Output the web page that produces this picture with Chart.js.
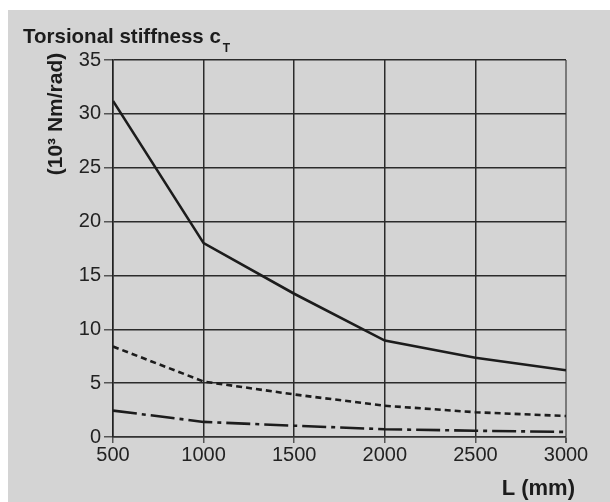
<!DOCTYPE html>
<html lang="en">
<head>
<meta charset="UTF-8">
<title>Torsional stiffness</title>
<script src="https://cdn.jsdelivr.net/npm/chart.js"></script>
<style>
    html, body { margin: 0; padding: 0; background: #ffffff; }
    #chart { display: block; }
</style>
</head>
<body>
<canvas id="chart" width="610" height="502"></canvas>
<script>
    // values
    const lengths = [500, 1000, 1500, 2000, 2500, 3000];
    const stiffnessSolid = [31.2, 18.0, 13.3, 8.95, 7.35, 6.2];
    const stiffnessDashed = [8.4, 5.15, 3.95, 2.9, 2.3, 1.95];
    const stiffnessDashDot = [2.45, 1.4, 1.05, 0.72, 0.58, 0.47];
    const xTicks = [500, 1000, 1500, 2000, 2500, 3000];
    const yTicks = [0, 5, 10, 15, 20, 25, 30, 35];

    const FONT = '"Liberation Sans", Arial, Helvetica, sans-serif';
    const INK = '#1c1c1c';

    const toPoints = (vals) => vals.map((v, i) => ({ x: lengths[i], y: v }));

    // gray panel behind the chart and the text labels
    const panelAndLabels = {
        id: 'panelAndLabels',
        beforeDraw(chart) {
            const ctx = chart.ctx;
            ctx.save();
            ctx.fillStyle = '#ffffff';
            ctx.fillRect(0, 0, chart.width, chart.height);
            ctx.fillStyle = '#d4d4d4';
            ctx.fillRect(8, 10, chart.width - 8, chart.height - 10);
            ctx.restore();
        },
        afterDraw(chart) {
            const ctx = chart.ctx;
            ctx.save();
            ctx.fillStyle = INK;
            ctx.textBaseline = 'alphabetic';

            // main title with subscript T
            ctx.font = `bold 20.5px ${FONT}`;
            ctx.textAlign = 'left';
            const title = 'Torsional stiffness c';
            ctx.fillText(title, 23, 43);
            const w = ctx.measureText(title).width;
            ctx.font = `bold 12px ${FONT}`;
            ctx.fillText('T', 23 + w + 2, 52);

            // y axis title, rotated
            ctx.save();
            ctx.translate(62, 114);
            ctx.rotate(-Math.PI / 2);
            ctx.font = `bold 21px ${FONT}`;
            ctx.textAlign = 'center';
            ctx.fillText('(10³ Nm/rad)', 0, 0);
            ctx.restore();

            // x axis title
            ctx.font = `bold 22px ${FONT}`;
            ctx.textAlign = 'right';
            ctx.fillText('L (mm)', 575, 495);
            ctx.restore();
        }
    };

    new Chart(document.getElementById('chart'), {
        type: 'line',
        data: {
            datasets: [{
                data: toPoints(stiffnessSolid),
                borderColor: INK,
                borderWidth: 2.6
            }, {
                data: toPoints(stiffnessDashed),
                borderColor: INK,
                borderWidth: 2.6,
                borderDash: [6, 4]
            }, {
                data: toPoints(stiffnessDashDot),
                borderColor: INK,
                borderWidth: 2.6,
                borderDash: [24, 5, 4, 5]
            }]
        },
        options: {
            responsive: false,
            animation: false,
            layout: { padding: { left: 63, top: 60, right: 44, bottom: 25 } },
            elements: { point: { radius: 0 }, line: { tension: 0 } },
            plugins: { legend: { display: false }, tooltip: { enabled: false } },
            scales: {
                x: {
                    type: 'linear',
                    min: 500,
                    max: 3000,
                    afterBuildTicks: (s) => { s.ticks = xTicks.map(v => ({ value: v })); },
                    afterFit: (s) => { s.height = 40; s.paddingLeft = 0; s.paddingRight = 0; },
                    ticks: {
                        color: '#222', font: { family: FONT, size: 20 }, padding: 0, maxRotation: 0,
                        callback: (v) => String(v)
                    },
                    grid: {
                        color: (c) => c.tick && c.tick.value === 3000 ? '#7a7a7a' : '#2b2b2b',
                        lineWidth: (c) => c.tick && c.tick.value === 3000 ? 2 : 1.5,
                        tickLength: 6,
                        tickColor: '#555'
                    },
                    border: { display: true, color: '#333', width: 1.5 }
                },
                y: {
                    min: 0,
                    max: 35,
                    afterBuildTicks: (s) => { s.ticks = yTicks.map(v => ({ value: v })); },
                    afterFit: (s) => { s.width = 50; s.paddingTop = 0; s.paddingBottom = 0; },
                    ticks: {
                        color: '#222', font: { family: FONT, size: 20 }, padding: 3,
                        callback: (v) => String(v)
                    },
                    grid: { color: '#2b2b2b', lineWidth: 1.5, tickLength: 9, tickColor: '#555' },
                    border: { display: true, color: '#222', width: 1.5 }
                }
            }
        },
        plugins: [panelAndLabels]
    });
</script>
</body>
</html>
